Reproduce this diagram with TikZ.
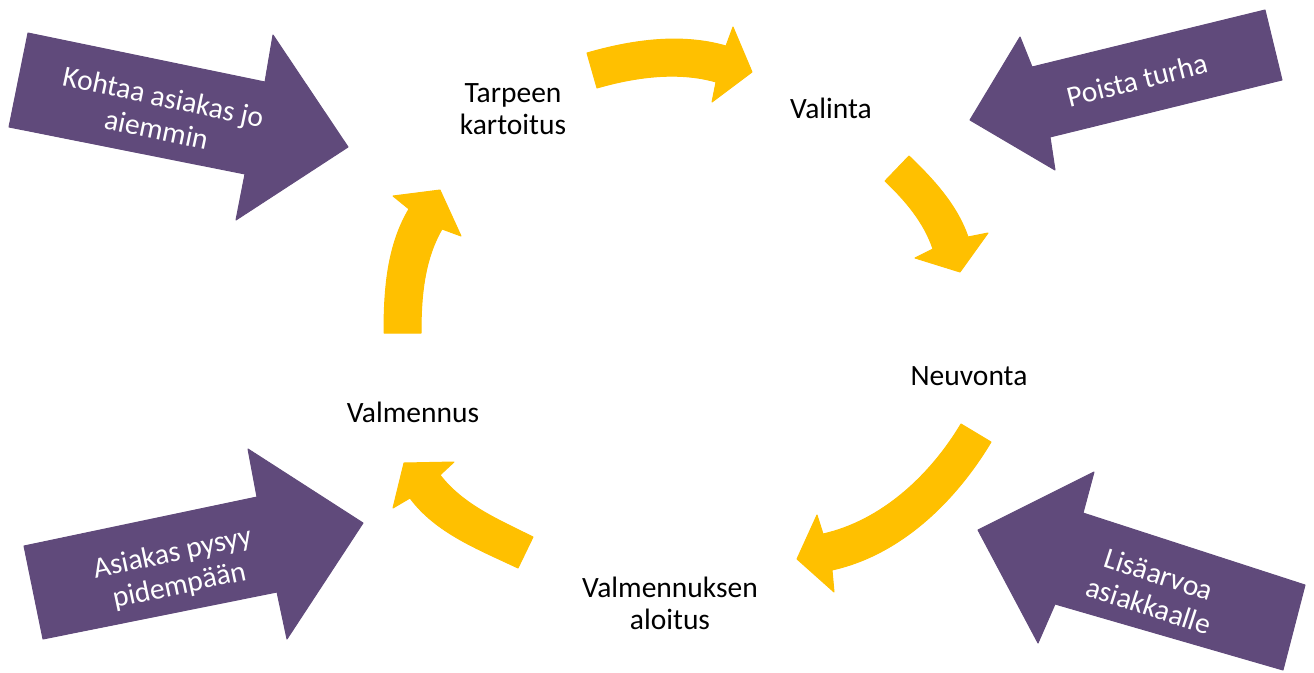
\documentclass[tikz,border=0pt]{standalone}
\usepackage{fontspec}
\setmainfont{Carlito}
\definecolor{ppurple}{HTML}{604A7B}
\definecolor{pyellow}{HTML}{FFC000}
\tikzset{
  yel/.style={fill=pyellow, draw=pyellow, line width=1pt, line join=round},
  pur/.style={fill=ppurple, draw=ppurple, line width=1pt, line join=round},
  lbl/.style={font=\fontsize{29.5}{32}\selectfont, align=center, text=black, inner sep=0pt},
  wlbl/.style={font=\fontsize{29.5}{33}\selectfont, align=center, text=white, inner sep=0pt},
}
\begin{document}
\begin{tikzpicture}[x=1pt,y=-1pt]
\useasboundingbox (0,0) rectangle (1314,672);

% purple block arrows
\fill[pur] (28,33) -- (265,82) -- (273,35) -- (348,147) -- (236,220) -- (245,174) -- (9,127) -- cycle;
\fill[pur] (1265,10) -- (1282,80) -- (1050,137) -- (1055,170) -- (970,120) -- (1020,37) -- (1032,67) -- cycle;
\fill[pur] (43,639) -- (24,546) -- (257,497) -- (248,449) -- (363,523) -- (287,639) -- (277,592) -- cycle;
\fill[pur] (1305,585) -- (1283,670) -- (1055,604) -- (1038,643) -- (978,530) -- (1094,472) -- (1083,513) -- cycle;

\node[wlbl, rotate=-12] (p1) at (160,113) {Kohtaa asiakas jo\\aiemmin};
\node[wlbl, rotate=14] (p2) at (1137,80) {Poista turha};
\node[wlbl, rotate=12] (p3) at (176,570) {Asiakas pysyy\\pidempään};
\node[wlbl, rotate=-18] (p4) at (1154,590) {Lisäarvoa\\asiakkaalle};

% yellow curved arrows
\fill[yel] (587,53) .. controls (632,40) and (681,33) .. (726,46) -- (733,27) -- (752,72) -- (712,102) -- (716,82)
  .. controls (678,71) and (635,77) .. (597,88) -- cycle;
\fill[yel] (909,156) .. controls (933.5,179.5) and (957,205) .. (968,237) -- (988,233) -- (960,272) -- (915,258) -- (933,249)
  .. controls (924,222) and (905,200) .. (885,181) -- cycle;
\fill[yel] (991,442) .. controls (955,502) and (900,555) .. (832,570) -- (834,592) -- (797,559) -- (817,515) -- (823,534)
  .. controls (881,521) and (930,476) .. (961,424) -- cycle;
\fill[yel] (518,568) -- (533,537) .. controls (499,520) and (463,505) .. (440,475) -- (454,462) -- (404,463) -- (393,508) -- (410,498)
  .. controls (436,533) and (478,549) .. (518,568) -- cycle;
\fill[yel] (384,333) -- (421,333) .. controls (421,297) and (424,260) .. (442,229) -- (461,236) -- (440,190) -- (393,196) -- (409,209)
  .. controls (387,246) and (384,290) .. (384,333) -- cycle;

% cycle labels
\node[lbl] (tarve) at (513,109) {Tarpeen\\kartoitus};
\node[lbl] (valinta) at (831,108) {Valinta};
\node[lbl] (neuvonta) at (969,376) {Neuvonta};
\node[lbl] (aloitus) at (670,603) {Valmennuksen\\aloitus};
\node[lbl] (valmennus) at (413,412) {Valmennus};
\end{tikzpicture}
\end{document}
